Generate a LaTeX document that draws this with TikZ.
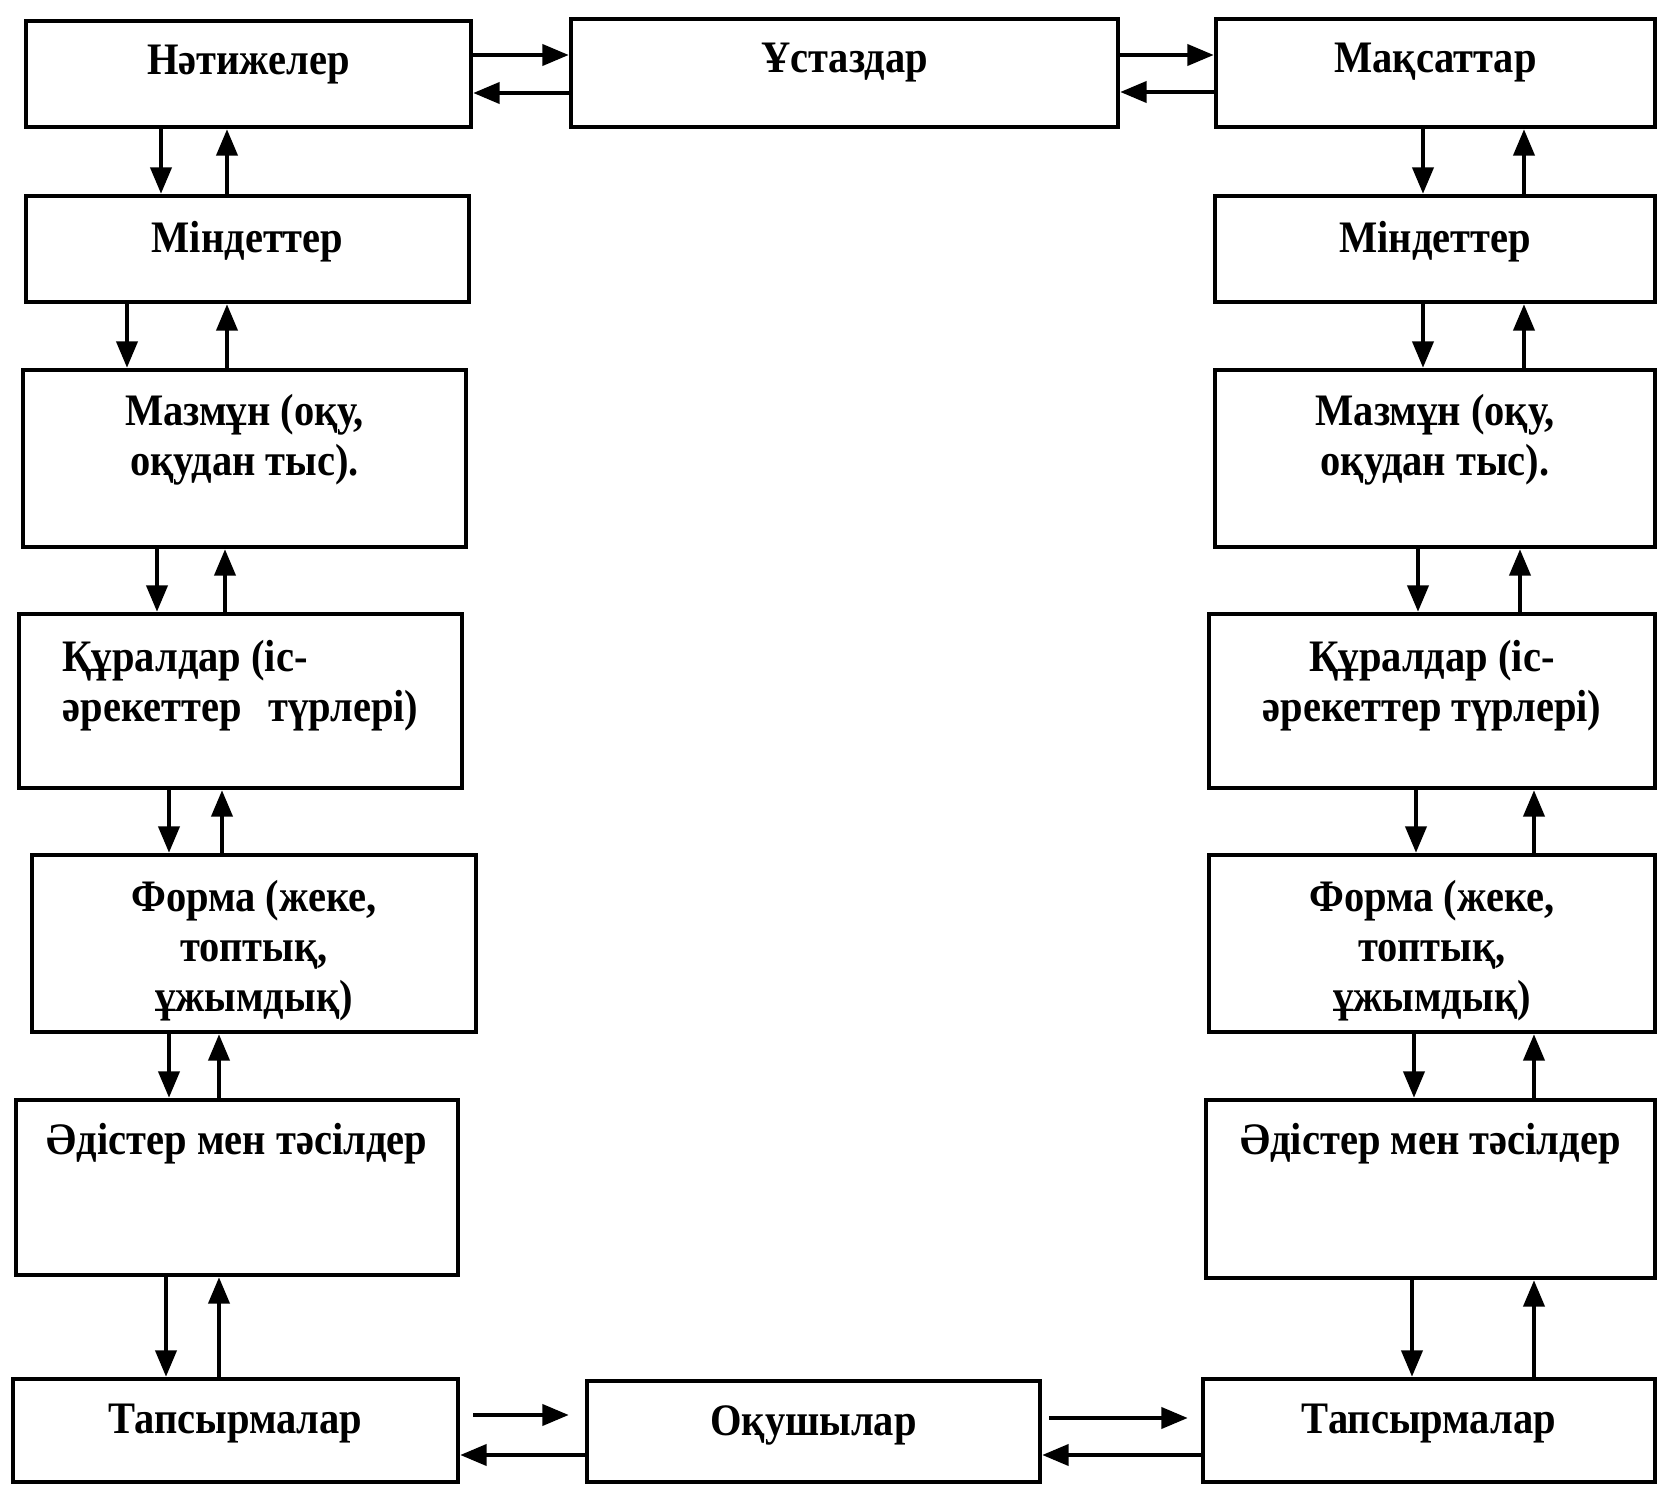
\documentclass[tikz,border=0pt]{standalone}
\usepackage{fontspec}
\setmainfont[FakeStretch=0.9]{Liberation Serif}
\usetikzlibrary{arrows.meta, positioning, fit}

\begin{document}
\begin{tikzpicture}[x=0.01cm, y=-0.01cm,
	blok/.style={draw, line width=1.3pt, inner sep=0pt},
	jazu/.style={font=\bfseries\fontsize{12.8}{14.2}\selectfont, align=center, inner sep=0pt},
	oq/.style={line width=1.05pt, -{Triangle[length=7.5pt, width=6pt]}}]
				\useasboundingbox (0,0) rectangle (1659,1485);
				% top row
				\node[blok, fit={(26,21) (471,127)}] (natije) {};
				\node[blok, fit={(571,19) (1118,127)}] (ustaz) {};
				\node[blok, fit={(1216,19) (1655,127)}] (maqsat) {};
				% left column
				\node[blok, fit={(26,196) (469,302)}] (mindet-l) {};
				\node[blok, fit={(23,370) (466,547)}] (mazmun-l) {};
				\node[blok, fit={(19,614) (462,788)}] (qural-l) {};
				\node[blok, fit={(32,855) (476,1032)}] (forma-l) {};
				\node[blok, fit={(16,1100) (458,1275)}] (adis-l) {};
				\node[blok, fit={(13,1379) (458,1482)}] (tapsyr-l) {};
				% right column
				\node[blok, fit={(1215,196) (1655,302)}] (mindet-r) {};
				\node[blok, fit={(1215,370) (1655,547)}] (mazmun-r) {};
				\node[blok, fit={(1209,614) (1655,788)}] (qural-r) {};
				\node[blok, fit={(1209,855) (1655,1032)}] (forma-r) {};
				\node[blok, fit={(1206,1100) (1655,1278)}] (adis-r) {};
				\node[blok, fit={(1203,1379) (1655,1482)}] (tapsyr-r) {};
				% bottom middle
				\node[blok, fit={(587,1381) (1040,1482)}] (oqushy) {};

				% texts
				\node[jazu, below=0.26cm of natije.north] (natije-t) {Нәтижелер};
				\node[jazu, below=0.26cm of ustaz.north] (ustaz-t) {Ұстаздар};
				\node[jazu, below=0.26cm of maqsat.north] (maqsat-t) {Мақсаттар};
				\node[jazu, below=0.27cm of mindet-l.north] (mindet-l-t) {Міндеттер};
				\node[jazu, below=0.27cm of mindet-r.north] (mindet-r-t) {Міндеттер};
				\node[jazu, below=0.26cm of mazmun-l.north] (mazmun-l-t) {Мазмұн (оқу,\\ оқудан тыс).};
				\node[jazu, below=0.26cm of mazmun-r.north] (mazmun-r-t) {Мазмұн (оқу,\\ оқудан тыс).};
				\node[jazu, align=left, below=0.28cm of qural-l.north] (qural-l-t) {Құралдар (іс-\\әрекеттер\hspace{0.6em}түрлері)};
				\node[jazu, below=0.28cm of qural-r.north] (qural-r-t) {Құралдар (іс-\\әрекеттер түрлері)};
				\node[jazu, below=0.27cm of forma-l.north] (forma-l-t) {Форма (жеке,\\топтық,\\ұжымдық)};
				\node[jazu, below=0.27cm of forma-r.north] (forma-r-t) {Форма (жеке,\\топтық,\\ұжымдық)};
				\node[jazu, below=0.25cm of adis-l.north] (adis-l-t) {Әдістер мен тәсілдер};
				\node[jazu, below=0.25cm of adis-r.north] (adis-r-t) {Әдістер мен тәсілдер};
				\node[jazu, below=0.27cm of tapsyr-l.north] (tapsyr-l-t) {Тапсырмалар};
				\node[jazu, below=0.27cm of tapsyr-r.north] (tapsyr-r-t) {Тапсырмалар};
				\node[jazu, below=0.26cm of oqushy.north] (oqushy-t) {Оқушылар};

				% top arrows
				\draw[oq] (natije.east |- 0,55) -- (ustaz.west |- 0,55);
				\draw[oq] (ustaz.west |- 0,93) -- (natije.east |- 0,93);
				\draw[oq] (ustaz.east |- 0,55) -- (maqsat.west |- 0,55);
				\draw[oq] (maqsat.west |- 0,92) -- (ustaz.east |- 0,92);

				% left column arrows
				\draw[oq] (natije.south -| 161,0) -- (mindet-l.north -| 161,0);
				\draw[oq] (mindet-l.north -| 227,0) -- (natije.south -| 227,0);
				\draw[oq] (mindet-l.south -| 127,0) -- (mazmun-l.north -| 127,0);
				\draw[oq] (mazmun-l.north -| 227,0) -- (mindet-l.south -| 227,0);
				\draw[oq] (mazmun-l.south -| 157,0) -- (qural-l.north -| 157,0);
				\draw[oq] (qural-l.north -| 225,0) -- (mazmun-l.south -| 225,0);
				\draw[oq] (qural-l.south -| 169,0) -- (forma-l.north -| 169,0);
				\draw[oq] (forma-l.north -| 222,0) -- (qural-l.south -| 222,0);
				\draw[oq] (forma-l.south -| 169,0) -- (adis-l.north -| 169,0);
				\draw[oq] (adis-l.north -| 219,0) -- (forma-l.south -| 219,0);
				\draw[oq] (adis-l.south -| 166,0) -- (tapsyr-l.north -| 166,0);
				\draw[oq] (tapsyr-l.north -| 219,0) -- (adis-l.south -| 219,0);

				% right column arrows
				\draw[oq] (maqsat.south -| 1423,0) -- (mindet-r.north -| 1423,0);
				\draw[oq] (mindet-r.north -| 1524,0) -- (maqsat.south -| 1524,0);
				\draw[oq] (mindet-r.south -| 1423,0) -- (mazmun-r.north -| 1423,0);
				\draw[oq] (mazmun-r.north -| 1524,0) -- (mindet-r.south -| 1524,0);
				\draw[oq] (mazmun-r.south -| 1418,0) -- (qural-r.north -| 1418,0);
				\draw[oq] (qural-r.north -| 1520,0) -- (mazmun-r.south -| 1520,0);
				\draw[oq] (qural-r.south -| 1416,0) -- (forma-r.north -| 1416,0);
				\draw[oq] (forma-r.north -| 1534,0) -- (qural-r.south -| 1534,0);
				\draw[oq] (forma-r.south -| 1414,0) -- (adis-r.north -| 1414,0);
				\draw[oq] (adis-r.north -| 1534,0) -- (forma-r.south -| 1534,0);
				\draw[oq] (adis-r.south -| 1412,0) -- (tapsyr-r.north -| 1412,0);
				\draw[oq] (tapsyr-r.north -| 1534,0) -- (adis-r.south -| 1534,0);

				% bottom arrows
				\draw[oq, shorten <=0.13cm, shorten >=0.16cm] (tapsyr-l.east |- 0,1415) -- (oqushy.west |- 0,1415);
				\draw[oq] (oqushy.west |- 0,1455) -- (tapsyr-l.east |- 0,1455);
				\draw[oq, shorten <=0.07cm, shorten >=0.13cm] (oqushy.east |- 0,1418) -- (tapsyr-r.west |- 0,1418);
				\draw[oq] (tapsyr-r.west |- 0,1455) -- (oqushy.east |- 0,1455);
			\end{tikzpicture}
\end{document}
